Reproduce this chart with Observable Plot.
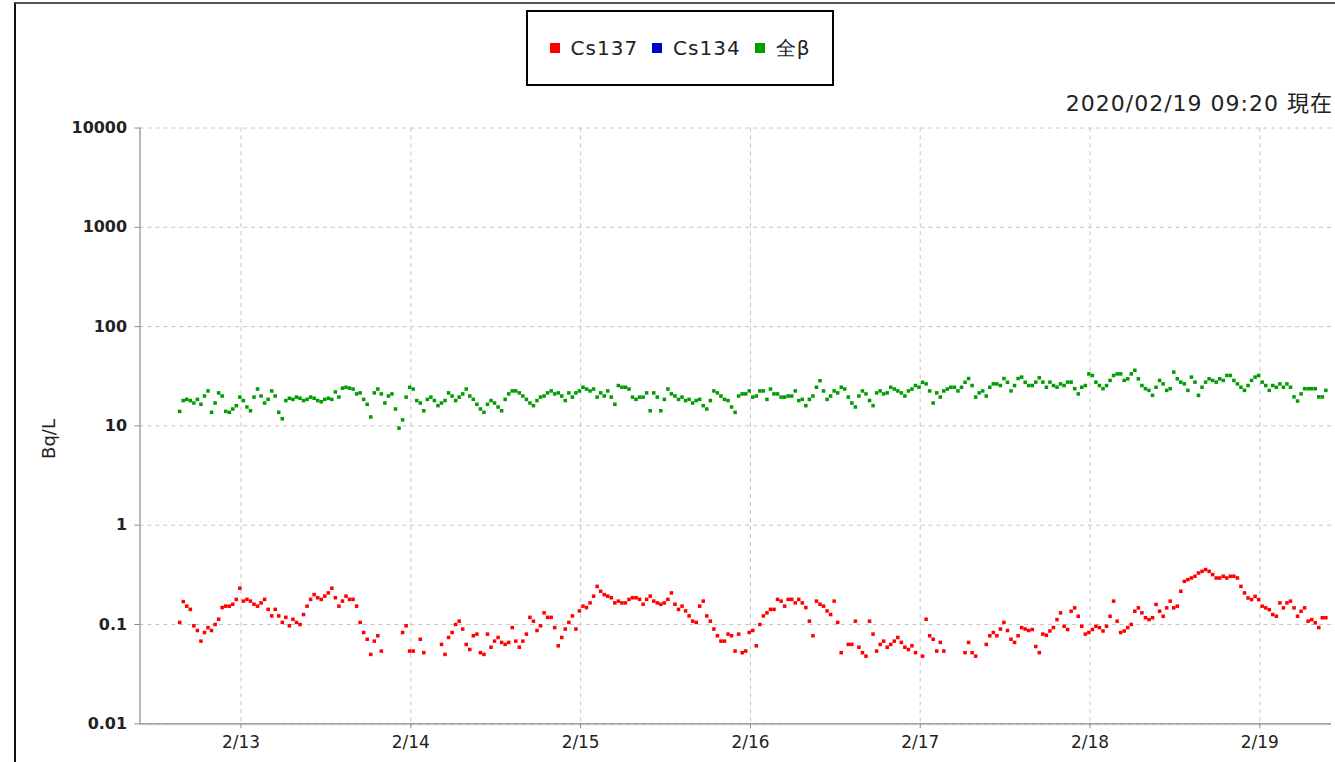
<!DOCTYPE html>
<html>
<head>
<meta charset="utf-8">
<script src="https://cdn.jsdelivr.net/npm/d3@7"></script>
<script src="https://cdn.jsdelivr.net/npm/@observablehq/plot@0.6"></script>
<style>
  html, body { margin: 0; padding: 0; background: #fff; overflow: hidden; }
  body { width: 1335px; height: 762px; position: relative; font-family: "DejaVu Sans", sans-serif; }
  #frame { position: absolute; left: 14px; top: 2px; width: 1400px; height: 800px; border-left: 2px solid #111; border-top: 2px solid #555; }
  #chart { position: absolute; left: 0; top: 0; }
  #legend { position: absolute; left: 526px; top: 10px; width: 308px; height: 76px; box-sizing: border-box; border: 2px solid #000; background: #fff;
            display: flex; align-items: center; justify-content: center; font-size: 20px; letter-spacing: 1px; color: #222; }
  #legend .sw { display: inline-block; width: 10px; height: 10px; margin-right: 11px; }
  #legend .it { display: flex; align-items: center; margin: 0 7px; }
  #stamp { position: absolute; right: 2px; top: 91px; font-size: 22px; line-height: 26px; letter-spacing: 1px; color: #222; white-space: nowrap;
           font-family: "DejaVu Sans", "Noto Sans CJK JP", sans-serif; }
  #ylabel { position: absolute; left: 48px; top: 439px; transform: translate(-50%, -50%) rotate(-90deg); font-size: 18px; color: #222; white-space: nowrap; }
</style>
</head>
<body>
<div id="frame"></div>
<div id="chart"></div>
<div id="legend"></div>
<div id="stamp"></div>
<div id="ylabel"></div>
<script>
// ---- data ----
const seriesNames = ["Cs137", "Cs134", "全β"];
const seriesColors = ["#ff0000", "#0000cc", "#009c00"];
const stampText = "2020/02/19 09:20 現在";
const yLabel = "Bq/L";
const startTime = Date.UTC(2020, 1, 12, 15, 20); // first sample
const stepMinutes = 30;
const xTickLabels = ["2/13", "2/14", "2/15", "2/16", "2/17", "2/18", "2/19"];
const xTickDates = [13, 14, 15, 16, 17, 18, 19];
const yTickValues = [0.01, 0.1, 1, 10, 100, 1000, 10000];
const yTickLabels = ["0.01", "0.1", "1", "10", "100", "1000", "10000"];
const n = null;
const cs137 = [
  0.105, 0.17, 0.153, 0.142, 0.097, 0.087, 0.068, 0.083, 0.093, 0.087,
  0.1, 0.113, 0.148, 0.153, 0.153, 0.16, 0.179, 0.232, 0.172, 0.179,
  0.172, 0.16, 0.153, 0.165, 0.179, 0.142, 0.122, 0.142, 0.122, 0.105,
  0.118, 0.097, 0.113, 0.105, 0.1, 0.126, 0.153, 0.179, 0.2, 0.186,
  0.179, 0.193, 0.208, 0.232, 0.186, 0.153, 0.172, 0.193, 0.179, 0.179,
  0.153, 0.105, 0.083, 0.071, 0.05, 0.068, 0.077, 0.054, n, n,
  n, n, n, 0.083, 0.097, 0.054, 0.054, n, 0.071, 0.052,
  n, n, n, n, 0.063, 0.05, 0.074, 0.083, 0.1, 0.108,
  0.09, 0.063, 0.056, 0.077, 0.08, 0.052, 0.05, 0.08, 0.059, 0.068,
  0.074, 0.066, 0.063, 0.066, 0.093, 0.068, 0.059, 0.068, 0.08, 0.118,
  0.108, 0.087, 0.097, 0.131, 0.118, 0.118, 0.093, 0.061, 0.074, 0.09,
  0.105, 0.122, 0.09, 0.137, 0.153, 0.148, 0.165, 0.193, 0.242, 0.216,
  0.2, 0.193, 0.186, 0.165, 0.172, 0.165, 0.165, 0.179, 0.186, 0.186,
  0.179, 0.16, 0.179, 0.193, 0.172, 0.165, 0.16, 0.165, 0.179, 0.208,
  0.16, 0.142, 0.153, 0.137, 0.122, 0.108, 0.105, 0.153, 0.172, 0.122,
  0.108, 0.09, 0.077, 0.068, 0.068, 0.08, 0.077, 0.054, 0.08, 0.052,
  0.054, 0.083, 0.087, 0.061, 0.1, 0.122, 0.131, 0.142, 0.142, 0.179,
  0.172, 0.153, 0.179, 0.179, 0.165, 0.179, 0.165, 0.148, 0.108, 0.077,
  0.172, 0.16, 0.153, 0.137, 0.126, 0.172, 0.105, 0.052, n, 0.063,
  0.063, 0.108, 0.059, 0.052, 0.048, 0.108, 0.08, 0.054, 0.063, 0.068,
  0.059, 0.063, 0.068, 0.074, 0.066, 0.059, 0.056, 0.061, 0.052, n,
  0.048, 0.113, 0.077, 0.071, 0.054, 0.066, 0.054, n, n, n,
  n, n, 0.052, 0.066, 0.052, 0.048, n, n, 0.063, 0.077,
  0.083, 0.077, 0.09, 0.105, 0.087, 0.071, 0.066, 0.077, 0.093, 0.09,
  0.087, 0.089, 0.06, 0.052, 0.08, 0.078, 0.086, 0.093, 0.112, 0.131,
  0.096, 0.089, 0.136, 0.147, 0.121, 0.096, 0.08, 0.083, 0.089, 0.096,
  0.093, 0.086, 0.096, 0.121, 0.172, 0.108, 0.083, 0.086, 0.093, 0.1,
  0.136, 0.147, 0.131, 0.117, 0.112, 0.117, 0.159, 0.136, 0.121, 0.147,
  0.172, 0.147, 0.153, 0.216, 0.272, 0.283, 0.294, 0.306, 0.33, 0.343,
  0.357, 0.343, 0.318, 0.294, 0.294, 0.306, 0.294, 0.306, 0.306, 0.294,
  0.242, 0.208, 0.185, 0.178, 0.192, 0.178, 0.153, 0.147, 0.141, 0.126,
  0.121, 0.165, 0.147, 0.165, 0.172, 0.147, 0.121, 0.136, 0.147, 0.108,
  0.112, 0.104, 0.093, 0.117, 0.117
];
const cs134 = []; // no detections shown
const beta = [
  14, 18, 18.5, 18, 17, 18.5, 16.5, 20, 22.5, 13.7,
  17, 21.5, 20, 14, 13.7, 14.8, 16, 19.5, 18, 15.5,
  14.2, 19.5, 23.5, 20, 17, 18.5, 22.5, 20, 13.7, 11.8,
  18, 19, 18.5, 19.5, 19, 18, 18.5, 19.5, 19, 18,
  17.5, 18.5, 19, 18.5, 22, 19.5, 24, 24.5, 24, 23.5,
  21, 21.5, 18.5, 16.5, 12.3, 21.5, 23.5, 21, 17, 20,
  21, 14.8, 9.5, 11.5, 19.5, 24.5, 23.5, 18, 17, 14.2,
  18.5, 19.5, 18, 16, 17, 18, 21.5, 20, 18, 19.5,
  21, 23.5, 20, 18.5, 16.5, 14.8, 13.7, 16.5, 18, 17,
  15.5, 14.2, 18.5, 21, 22.5, 22.5, 21.5, 20, 18.5, 17,
  16, 18, 19.5, 20, 21.5, 22.5, 21, 21.5, 20, 18,
  21.5, 19.5, 21.5, 22.5, 24.5, 23.5, 22.5, 23.5, 19.5, 21.5,
  20, 22.5, 19.5, 16.5, 25.5, 24.5, 24.5, 23.5, 19.5, 18.5,
  19.5, 19.5, 21.5, 14.2, 21.5, 19.5, 14.2, 18.5, 23.5, 21,
  20, 18.5, 19.5, 18, 18.5, 17, 18, 18.5, 16, 14.8,
  18, 22.5, 21.5, 20, 18.5, 18, 15.5, 13.7, 20, 21,
  21, 22.5, 19.5, 20, 22.5, 22.5, 18.5, 23.5, 21, 21,
  19.5, 19.5, 20, 20, 22.5, 18, 18.5, 16, 18.5, 20,
  24.5, 28.5, 22.5, 18.5, 20, 22.5, 21.5, 24.5, 23.5, 19.5,
  17, 15.5, 20, 22.5, 21, 18, 16, 21.5, 22.5, 21,
  21.5, 24.5, 23.5, 22.5, 21.5, 20, 22.5, 23.5, 25.5, 24.5,
  27.5, 26.5, 22.5, 17, 21.5, 19.5, 22.5, 23.5, 24.5, 24.5,
  22.5, 24.5, 27.5, 30, 25.5, 19.5, 21.5, 22.5, 20, 24.5,
  26.5, 26.5, 25.5, 30, 27.5, 22.5, 25.5, 30, 31, 27.5,
  25.5, 25.5, 27.6, 30.5, 27.6, 24.5, 27.6, 25.5, 24.5, 26.5,
  25.5, 27.6, 27.6, 23.7, 21, 24.5, 25.5, 33.4, 32.2, 27.6,
  25.5, 23.7, 25.5, 28.7, 32.2, 33.4, 33.4, 28.7, 29.8, 33.4,
  36.3, 29.8, 25.5, 23.7, 22.8, 20.3, 24.5, 28.7, 26.5, 22.8,
  23.7, 34.8, 29.8, 27.6, 26.5, 22.8, 31, 27.6, 20.3, 24.5,
  27.6, 29.8, 28.7, 27.6, 29.8, 28.7, 32.2, 32.2, 28.7, 26.5,
  24.5, 22.8, 25.5, 28.7, 31, 32.2, 27.6, 25.5, 22.8, 25.5,
  24.5, 26.5, 24.5, 26.5, 24.5, 19.6, 17.8, 21, 23.7, 23.7,
  23.7, 23.7, 19.6, 19.6, 22.8
];

// ---- build table ----
const timeAt = (i) => new Date(startTime + i * stepMinutes * 60000);
const rows = [];
[cs137, cs134, beta].forEach((arr, s) => {
  arr.forEach((v, i) => { if (v != null) rows.push({ t: timeAt(i), v, s: seriesNames[s] }); });
});
const ticksX = xTickDates.map(d => new Date(Date.UTC(2020, 1, d)));
const xDomain = [new Date(Date.UTC(2020, 1, 12, 9, 43)), new Date(Date.UTC(2020, 1, 19, 10, 8))];
const xLabelOf = (d) => xTickLabels[ticksX.findIndex(t => +t === +d)];
const yLabelOf = (d) => yTickLabels[yTickValues.findIndex(v => Math.abs(Math.log10(v) - Math.log10(d)) < 1e-6)];

const grid = { stroke: "#c4c4c4", strokeOpacity: 1, strokeDasharray: "4,4" };
const chart = Plot.plot({
  width: 1340, height: 762,
  marginLeft: 140, marginRight: 4, marginTop: 128, marginBottom: 36,
  style: { fontFamily: "DejaVu Sans, sans-serif", color: "#222", background: "transparent", overflow: "visible" },
  x: { type: "utc", domain: xDomain },
  y: { type: "log", domain: [0.01, 10000] },
  color: { domain: seriesNames, range: seriesColors },
  marks: [
    Plot.gridX(ticksX, grid),
    Plot.gridY(yTickValues, grid),
    Plot.ruleY([0.01], { stroke: "#8a8a8a", strokeWidth: 1.2 }),
    Plot.ruleX([xDomain[0]], { stroke: "#8a8a8a", strokeWidth: 1.2 }),
    Plot.axisX(ticksX, { tickFormat: null, text: null, tickSize: 5, stroke: "#8a8a8a", label: null }),
    Plot.text(ticksX, { x: d => d, frameAnchor: "bottom", dy: 24, text: xLabelOf, fontSize: 17, fill: "#222" }),
    Plot.axisY(yTickValues, { tickFormat: null, text: null, tickSize: 5, stroke: "#8a8a8a", label: null }),
    Plot.text(yTickValues, { y: d => d, frameAnchor: "left", dx: -13, textAnchor: "end", text: yLabelOf, fontSize: 16, fontWeight: "bold", fill: "#222" }),
    Plot.dot(rows, { x: "t", y: "v", fill: "s", symbol: "square", r: 2.0, stroke: null })
  ]
});
document.getElementById("chart").appendChild(chart);

// ---- legend & texts ----
const lg = document.getElementById("legend");
seriesNames.forEach((name, i) => {
  const it = document.createElement("span");
  it.className = "it";
  const sw = document.createElement("span");
  sw.className = "sw";
  sw.style.background = seriesColors[i];
  const tx = document.createElement("span");
  tx.textContent = name;
  it.appendChild(sw); it.appendChild(tx);
  lg.appendChild(it);
});
document.getElementById("stamp").textContent = stampText;
document.getElementById("ylabel").textContent = yLabel;
</script>
</body>
</html>
